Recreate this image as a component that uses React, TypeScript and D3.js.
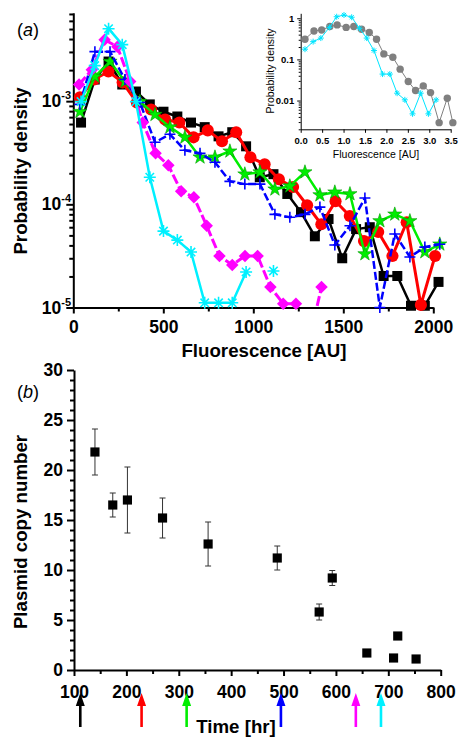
import React, { useRef, useEffect } from 'react';
import * as d3 from 'd3';

const FONT = '"Liberation Sans", Arial, Helvetica, sans-serif';

// ---- panel (a): fluorescence histograms (AU vs probability density) ----
const blackX = [43, 119, 196, 272, 348, 425, 501, 578, 654, 730, 807, 883, 960, 1036, 1112, 1189, 1265, 1342, 1418, 1494, 1571, 1647, 1724, 1800, 1876, 1953, 2029];
const blackY = [6.2e-4, 1.62e-3, 2.42e-3, 1.45e-3, 1.24e-3, 9.3e-4, 7.9e-4, 7.1e-4, 6.2e-4, 5.6e-4, 4.56e-4, 5.0e-4, 3.65e-4, 1.83e-4, 1.96e-4, 1.26e-4, 8.4e-5, 4.9e-5, 7.2e-5, 3.0e-5, 5.75e-5, 6.0e-5, 2.02e-5, 2.02e-5, 1.04e-5, 1.04e-5, 1.77e-5];

const redX = [37, 116, 195, 274, 353, 432, 510, 589, 668, 747, 826, 905, 984, 1063, 1142, 1221, 1299, 1378, 1457, 1536, 1615, 1694, 1773, 1852, 1931, 2010];
const redY = [1.09e-3, 1.62e-3, 1.94e-3, 1.52e-3, 9.7e-4, 8.3e-4, 6.65e-4, 6.2e-4, 4.46e-4, 5.21e-4, 4.08e-4, 5.0e-4, 2.86e-4, 2.45e-4, 1.75e-4, 1.47e-4, 9.8e-5, 6.4e-5, 1.07e-4, 7.7e-5, 4.4e-5, 5.4e-5, 3.16e-5, 6.7e-5, 1.06e-5, 3.16e-5];

const greenX = [37, 120, 204, 287, 370, 454, 537, 620, 704, 787, 870, 953, 1037, 1120, 1203, 1287, 1370, 1453, 1537, 1620, 1703, 1786, 1870, 1953, 2036];
const greenY = [7.9e-4, 1.73e-3, 2.42e-3, 1.55e-3, 9.9e-4, 7.4e-4, 5.6e-4, 4.46e-4, 2.86e-4, 2.86e-4, 3.27e-4, 1.96e-4, 2.05e-4, 1.4e-4, 1.5e-4, 2.05e-4, 1.23e-4, 1.31e-4, 1.26e-4, 3.3e-5, 6.9e-5, 8.0e-5, 6.9e-5, 3.45e-5, 4.1e-5];

const blueX = [37, 120, 204, 287, 370, 454, 537, 620, 704, 787, 870, 953, 1037, 1120, 1203, 1287, 1370, 1453, 1537, 1620, 1703, 1786, 1870, 1953, 2036];
const blueY = [9.3e-4, 3.02e-3, 3.02e-3, 1.62e-3, 9.7e-4, 3.99e-4, 4.77e-4, 3.34e-4, 3.12e-4, 2.56e-4, 1.67e-4, 1.57e-4, 1.57e-4, 8.0e-5, 7.5e-5, 8.0e-5, 9.4e-5, 4.03e-5, 6.2e-5, 1.15e-4, 1.0e-5, 5.15e-5, 3.09e-5, 3.85e-5, 4.1e-5];

const magentaX = [32, 103, 174, 245, 316, 386, 457, 528, 599, 670, 741, 812, 883, 954, 1024, 1095, 1166, 1237, 1308, 1379];
const magentaY = [1.45e-3, 2.02e-3, 3.94e-3, 3.37e-3, 1.55e-3, 6.2e-4, 3.12e-4, 2.39e-4, 1.34e-4, 1.17e-4, 6.2e-5, 3.16e-5, 2.58e-5, 3.16e-5, 3.16e-5, 1.58e-5, 1.09e-5, 1.09e-5, 4.6e-6, 1.58e-5];

const cyanX = [43, 119, 196, 272, 348, 425, 501, 578, 654, 730, 807, 883, 960, 1036, 1112];
const cyanY = [9.9e-4, 2.21e-3, 5.04e-3, 3.53e-3, 9.9e-4, 1.83e-4, 5.5e-5, 4.5e-5, 3.45e-5, 1.11e-5, 1.11e-5, 1.11e-5, 2.21e-5, null, 2.26e-5];

const fluorTicks = [0, 500, 1000, 1500, 2000];
const densityDecades = [1e-5, 1e-4, 1e-3];

// ---- inset: normalised fluorescence ----
const insetGrayX = [0.10, 0.31, 0.49, 0.68, 0.85, 1.06, 1.24, 1.42, 1.60, 1.77, 1.94, 2.15, 2.32, 2.51, 2.68, 2.86, 3.03, 3.23, 3.42, 3.55];
const insetGrayY = [0.31, 0.49, 0.52, 0.63, 0.69, 0.60, 0.63, 0.54, 0.45, 0.31, 0.136, 0.113, 0.058, 0.029, 0.0175, 0.0227, 0.0156, 0.0029, 0.0114, 0.0029];
const insetCyanX = [0.10, 0.29, 0.47, 0.67, 0.84, 1.01, 1.19, 1.37, 1.54, 1.71, 1.91, 2.08, 2.25, 2.43, 2.61, 2.80, 2.98, 3.16];
const insetCyanY = [0.177, 0.27, 0.33, 0.60, 1.09, 1.20, 1.06, 0.57, 0.33, 0.164, 0.044, 0.044, 0.0151, 0.0104, 0.00475, 0.0151, 0.00475, 0.0104];
const insetXTicks = [0, 0.5, 1, 1.5, 2, 2.5, 3, 3.5];
const insetYTicks = [1, 0.1, 0.01];
const insetYLabels = ['1', '0.1', '0.01'];

// ---- panel (b): plasmid copy number over time ----
const timeHr = [140, 174, 202, 269, 356, 488, 568, 593, 659, 710, 718, 753];
const copyNumber = [21.8, 16.5, 17.0, 15.2, 12.6, 11.2, 5.8, 9.2, 1.7, 1.2, 3.4, 1.1];
const copyErr = [2.3, 1.2, 3.3, 2.0, 2.2, 1.2, 0.8, 0.75, 0.2, 0, 0, 0];
const arrowTimes = [112, 229, 315, 495, 638, 686];
const timeTicks = [100, 200, 300, 400, 500, 600, 700, 800];
const copyTicks = [0, 5, 10, 15, 20, 25, 30];

const W = 460;
const H = 738;

const App = () => {
  const svgRef = useRef<SVGSVGElement>(null);

  useEffect(() => {
    const svg = d3.select(svgRef.current);
    svg.selectAll('*').remove();
    svg.attr('width', W).attr('height', H).attr('viewBox', `0 0 ${W} ${H}`);

    const styleAxis = (g: any, width: number, fontSize: number, bold = true) => {
      g.attr('font-family', FONT).attr('font-size', fontSize).attr('font-weight', bold ? 'bold' : 'normal');
      g.selectAll('path.domain').attr('stroke', '#000').attr('stroke-width', width);
      g.selectAll('.tick line').attr('stroke', '#000').attr('stroke-width', width);
      g.selectAll('.tick text').attr('fill', '#000');
    };
    const minorLog = (decades: number[], max: number) =>
      decades.flatMap(d => d3.range(2, 10).map(k => k * d)).filter(v => v <= max);

    // ===================== panel (a) =====================
    const xA = d3.scaleLinear().domain([0, 2000]).range([73.3, 433.3]);
    const yA = d3.scaleLog().domain([1e-5, 7.2e-3]).range([307.5, 12.7]);

    // minor ticks
    svg.append('g').attr('transform', `translate(${xA(0)},0)`)
      .call(d3.axisLeft(yA).tickValues(minorLog(densityDecades, 7.2e-3)).tickSize(4).tickFormat(() => ''))
      .call((g: any) => { g.select('.domain').remove(); styleAxis(g, 2, 10); });
    svg.append('g').attr('transform', `translate(0,${yA(1e-5)})`)
      .call(d3.axisBottom(xA).tickValues([250, 750, 1250, 1750]).tickSize(4).tickFormat(() => ''))
      .call((g: any) => { g.select('.domain').remove(); styleAxis(g, 2, 10); });

    // major axes
    svg.append('g').attr('transform', `translate(${xA(0)},0)`)
      .call(d3.axisLeft(yA).tickValues(densityDecades).tickSize(7).tickSizeOuter(0).tickFormat(() => ''))
      .call((g: any) => styleAxis(g, 2, 17.5));
    svg.append('g').attr('transform', `translate(0,${yA(1e-5)})`)
      .call(d3.axisBottom(xA).tickValues(fluorTicks).tickSize(6).tickSizeOuter(0).tickPadding(7).tickFormat(d3.format('d')))
      .call((g: any) => styleAxis(g, 2, 17.5));

    // 10^n labels
    densityDecades.forEach(v => {
      const t = svg.append('text')
        .attr('x', 71).attr('y', yA(v) + 6)
        .attr('text-anchor', 'end')
        .attr('font-family', FONT).attr('font-weight', 'bold').attr('font-size', 17.5);
      t.append('tspan').text('10');
      t.append('tspan').attr('font-size', 11).attr('dy', -8).text(String(Math.round(Math.log10(v))));
    });

    svg.append('text')
      .attr('transform', `translate(27,171) rotate(-90)`)
      .attr('text-anchor', 'middle')
      .attr('font-family', FONT).attr('font-weight', 'bold').attr('font-size', 18.7)
      .text('Probability density');
    svg.append('text')
      .attr('x', 264).attr('y', 357)
      .attr('text-anchor', 'middle')
      .attr('font-family', FONT).attr('font-weight', 'bold').attr('font-size', 18.7)
      .text('Fluorescence [AU]');
    const la = svg.append('text').attr('x', 17).attr('y', 36)
      .attr('font-family', FONT).attr('font-size', 18);
    la.append('tspan').text('(');
    la.append('tspan').attr('font-style', 'italic').text('a');
    la.append('tspan').text(')');

    svg.append('defs').append('clipPath').attr('id', 'clipA')
      .append('rect').attr('x', 0).attr('y', 0).attr('width', W).attr('height', yA(1e-5));

    const mk = {
      square: d3.symbol(d3.symbolSquare, 100)(),
      circle: d3.symbol(d3.symbolCircle, 115)(),
      star: d3.symbol(d3.symbolStar, 62)(),
      diamond: d3.symbol(d3.symbolDiamond2, 100)(),
      plus: 'M-5.5,0H5.5M0,-5.5V5.5',
      asterisk: 'M-6,0H6M0,-6V6M-4.2,-4.2L4.2,4.2M-4.2,4.2L4.2,-4.2',
    };

    const seriesA = [
      { xs: blackX, ys: blackY, color: '#000000', lw: 2.5, dash: null, marker: 'square', filled: true },
      { xs: redX, ys: redY, color: '#ff0000', lw: 3, dash: null, marker: 'circle', filled: true },
      { xs: greenX, ys: greenY, color: '#00ee00', lw: 2.5, dash: null, marker: 'star', filled: true },
      { xs: blueX, ys: blueY, color: '#0000ff', lw: 2.5, dash: '8,3', marker: 'plus', filled: false },
      { xs: magentaX, ys: magentaY, color: '#ff00ff', lw: 3, dash: '10,3', marker: 'diamond', filled: true },
      { xs: cyanX, ys: cyanY, color: '#00f0ff', lw: 2.5, dash: null, marker: 'asterisk', filled: false },
    ];

    seriesA.forEach(s => {
      const pts = s.xs.map((x, i) => ({ x, y: s.ys[i] }));
      const line = d3.line<any>()
        .defined(d => d.y != null)
        .x(d => xA(d.x))
        .y(d => yA(d.y));
      svg.append('path')
        .attr('clip-path', 'url(#clipA)')
        .attr('d', line(pts))
        .attr('fill', 'none')
        .attr('stroke', s.color)
        .attr('stroke-width', s.lw)
        .attr('stroke-dasharray', s.dash)
        .attr('stroke-linejoin', 'round');
      svg.append('g').selectAll('path')
        .data(pts.filter(d => d.y != null && d.y >= 1e-5))
        .join('path')
        .attr('transform', d => `translate(${xA(d.x)},${yA(d.y)})`)
        .attr('d', (mk as any)[s.marker])
        .attr('fill', s.filled ? s.color : 'none')
        .attr('stroke', s.filled ? (s.marker === 'star' ? '#009900' : 'none') : s.color)
        .attr('stroke-width', s.filled ? 0.6 : 1.6);
    });

    // ===================== inset =====================
    const xI = d3.scaleLinear().domain([0, 3.5]).range([300.7, 450.7]);
    const yI = d3.scaleLog().domain([2e-3, 1.32]).range([129.3, 13.3]);

    svg.append('g').attr('transform', `translate(${xI(0)},0)`)
      .call(d3.axisLeft(yI).tickValues(minorLog([1e-3, 1e-2, 1e-1, 1], 1.32).filter(v => v >= 2e-3)).tickSize(2).tickFormat(() => ''))
      .call((g: any) => { g.select('.domain').remove(); styleAxis(g, 1, 9); });
    svg.append('g').attr('transform', `translate(${xI(0)},0)`)
      .call(d3.axisLeft(yI).tickValues(insetYTicks).tickSize(3.5).tickSizeOuter(0).tickPadding(3)
        .tickFormat((d: any, i: number) => insetYLabels[i]))
      .call((g: any) => styleAxis(g, 1, 9.5));
    svg.append('g').attr('transform', `translate(0,${yI(2e-3)})`)
      .call(d3.axisBottom(xI).tickValues(insetXTicks).tickSize(3.5).tickSizeOuter(0).tickPadding(4).tickFormat(d3.format('.1f')))
      .call((g: any) => styleAxis(g, 1, 9.5));
    svg.append('text')
      .attr('transform', `translate(274,71) rotate(-90)`)
      .attr('text-anchor', 'middle')
      .attr('font-family', FONT).attr('font-size', 10.5)
      .text('Probability density');
    svg.append('text')
      .attr('x', 376).attr('y', 158)
      .attr('text-anchor', 'middle')
      .attr('font-family', FONT).attr('font-size', 10.5)
      .text('Fluorescence [AU]');

    const lineI = d3.line<any>().x(d => xI(d.x)).y(d => yI(d.y));
    const gray = insetGrayX.map((x, i) => ({ x, y: insetGrayY[i] }));
    const cyanI = insetCyanX.map((x, i) => ({ x, y: insetCyanY[i] }));
    svg.append('path').attr('d', lineI(gray)).attr('fill', 'none').attr('stroke', '#808080').attr('stroke-width', 1);
    svg.append('g').selectAll('circle').data(gray).join('circle')
      .attr('cx', d => xI(d.x)).attr('cy', d => yI(d.y)).attr('r', 3.7).attr('fill', '#808080');
    svg.append('path').attr('d', lineI(cyanI)).attr('fill', 'none').attr('stroke', '#00e5ff').attr('stroke-width', 1);
    svg.append('g').selectAll('path').data(cyanI).join('path')
      .attr('transform', d => `translate(${xI(d.x)},${yI(d.y)})`)
      .attr('d', 'M-3,0H3M0,-3V3M-2.1,-2.1L2.1,2.1M-2.1,2.1L2.1,-2.1')
      .attr('fill', 'none').attr('stroke', '#00e5ff').attr('stroke-width', 1);

    // ===================== panel (b) =====================
    const xB = d3.scaleLinear().domain([100, 800]).range([74, 440.7]);
    const yB = d3.scaleLinear().domain([0, 30]).range([670, 370]);

    svg.append('g').attr('transform', `translate(${xB(100)},0)`)
      .call(d3.axisLeft(yB).tickValues(d3.range(0, 31).filter(v => v % 5 !== 0)).tickSize(4).tickFormat(() => ''))
      .call((g: any) => { g.select('.domain').remove(); styleAxis(g, 2, 10); });
    svg.append('g').attr('transform', `translate(0,${yB(0)})`)
      .call(d3.axisBottom(xB).tickValues(d3.range(150, 800, 100)).tickSize(4).tickFormat(() => ''))
      .call((g: any) => { g.select('.domain').remove(); styleAxis(g, 2, 10); });
    svg.append('g').attr('transform', `translate(${xB(100)},0)`)
      .call(d3.axisLeft(yB).tickValues(copyTicks).tickSize(7).tickSizeOuter(0).tickPadding(4))
      .call((g: any) => styleAxis(g, 2, 17.5));
    svg.append('g').attr('transform', `translate(0,${yB(0)})`)
      .call(d3.axisBottom(xB).tickValues(timeTicks).tickSize(6).tickSizeOuter(0).tickPadding(9.5))
      .call((g: any) => styleAxis(g, 2, 17.5));

    svg.append('text')
      .attr('transform', `translate(27,532) rotate(-90)`)
      .attr('text-anchor', 'middle')
      .attr('font-family', FONT).attr('font-weight', 'bold').attr('font-size', 18.7)
      .text('Plasmid copy number');
    svg.append('text')
      .attr('x', 236).attr('y', 733)
      .attr('text-anchor', 'middle')
      .attr('font-family', FONT).attr('font-weight', 'bold').attr('font-size', 18.7)
      .text('Time [hr]');
    const lb = svg.append('text').attr('x', 17).attr('y', 398)
      .attr('font-family', FONT).attr('font-size', 18);
    lb.append('tspan').text('(');
    lb.append('tspan').attr('font-style', 'italic').text('b');
    lb.append('tspan').text(')');

    const pb = timeHr.map((t, i) => ({ t, v: copyNumber[i], e: copyErr[i] }));
    const eb = svg.append('g').attr('stroke', '#333').attr('stroke-width', 1);
    pb.filter(d => d.e > 0).forEach(d => {
      const x = xB(d.t);
      eb.append('line').attr('x1', x).attr('x2', x).attr('y1', yB(d.v - d.e)).attr('y2', yB(d.v + d.e));
      eb.append('line').attr('x1', x - 3).attr('x2', x + 3).attr('y1', yB(d.v - d.e)).attr('y2', yB(d.v - d.e));
      eb.append('line').attr('x1', x - 3).attr('x2', x + 3).attr('y1', yB(d.v + d.e)).attr('y2', yB(d.v + d.e));
    });
    svg.append('g').selectAll('path').data(pb).join('path')
      .attr('transform', d => `translate(${xB(d.t)},${yB(d.v)})`)
      .attr('d', d3.symbol(d3.symbolSquare, 84)())
      .attr('fill', '#000');

    // arrows marking the sampling times of the histograms
    const arrowColors = ['#000000', '#ff0000', '#00ee00', '#0000ff', '#ff00ff', '#00f0ff'];
    arrowTimes.forEach((t, i) => {
      const x = xB(t);
      const tip = 693, neck = 706, tail = 727;
      svg.append('path')
        .attr('d', `M${x},${tip}L${x + 4.5},${neck}L${x + 1.3},${neck}L${x + 1.3},${tail}L${x - 1.3},${tail}L${x - 1.3},${neck}L${x - 4.5},${neck}Z`)
        .attr('fill', arrowColors[i]);
    });
  }, []);

  return <svg ref={svgRef} style={{ position: 'absolute', left: 0, top: 0, background: '#fff' }} />;
};

export default App;
